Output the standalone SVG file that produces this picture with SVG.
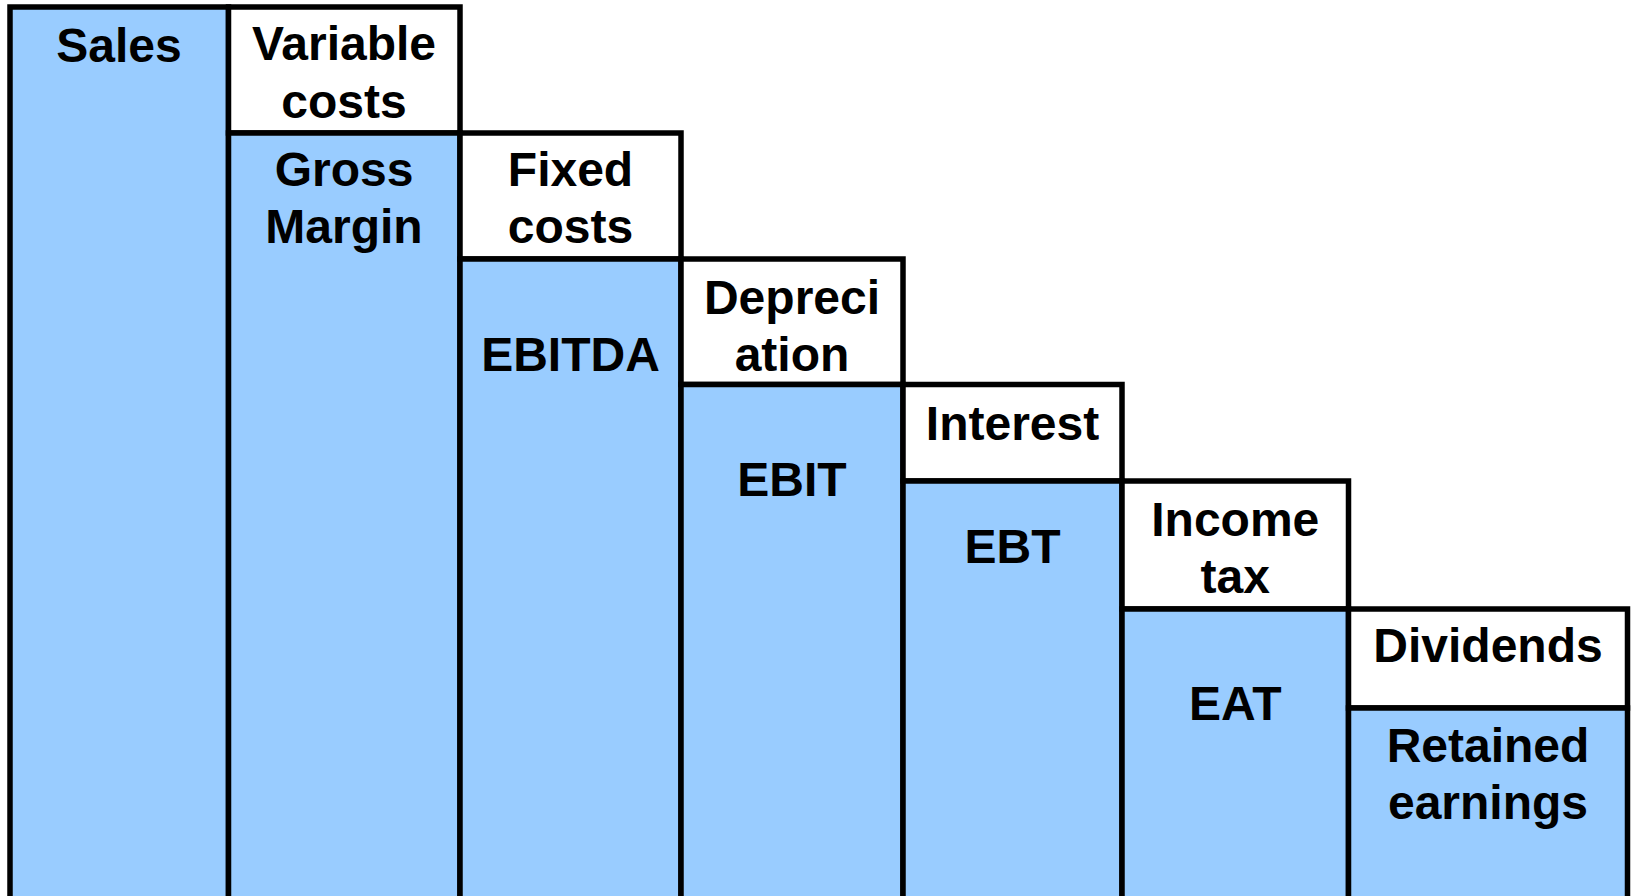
<svg xmlns="http://www.w3.org/2000/svg" width="1635" height="896" viewBox="0 0 1635 896">
  <style>
    .profit { fill: #99ccff; stroke: #000; stroke-width: 5.5; }
    .cost { fill: #ffffff; stroke: #000; stroke-width: 5.5; }
    text { font-family: "Liberation Sans", Arial, sans-serif; font-weight: bold; font-size: 48px; fill: #000; text-anchor: middle; }
  </style>
  <rect width="1635" height="896" fill="#ffffff"/>

  <!-- Profit cascade: each step splits the previous amount into a cost (white) and what remains (blue) -->
  <g id="sales">
    <rect class="profit" x="10" y="7" width="218.5" height="892"/>
    <text x="119" y="62">Sales</text>
  </g>

  <g id="variable-costs">
    <rect class="cost" x="228.5" y="7" width="231.5" height="126"/>
    <text x="344" y="60">Variable</text>
    <text x="344" y="118">costs</text>
  </g>
  <g id="gross-margin">
    <rect class="profit" x="228.5" y="133" width="231.5" height="766"/>
    <text x="344" y="186">Gross</text>
    <text x="344" y="243">Margin</text>
  </g>

  <g id="fixed-costs">
    <rect class="cost" x="460" y="133" width="221" height="126"/>
    <text x="570.5" y="186">Fixed</text>
    <text x="570.5" y="243">costs</text>
  </g>
  <g id="ebitda">
    <rect class="profit" x="460" y="259" width="221" height="640"/>
    <text x="570.5" y="371">EBITDA</text>
  </g>

  <g id="depreciation">
    <rect class="cost" x="681" y="259" width="222" height="125.5"/>
    <text x="792" y="314">Depreci</text>
    <text x="792" y="371">ation</text>
  </g>
  <g id="ebit">
    <rect class="profit" x="681" y="384.5" width="222" height="514.5"/>
    <text x="792" y="496">EBIT</text>
  </g>

  <g id="interest">
    <rect class="cost" x="903" y="384.5" width="219" height="96.5"/>
    <text x="1012.5" y="440">Interest</text>
  </g>
  <g id="ebt">
    <rect class="profit" x="903" y="481" width="219" height="418"/>
    <text x="1012.5" y="563">EBT</text>
  </g>

  <g id="income-tax">
    <rect class="cost" x="1122" y="481" width="226.5" height="128"/>
    <text x="1235.25" y="536">Income</text>
    <text x="1235.25" y="593">tax</text>
  </g>
  <g id="eat">
    <rect class="profit" x="1122" y="609" width="226.5" height="290"/>
    <text x="1235.25" y="720">EAT</text>
  </g>

  <g id="dividends">
    <rect class="cost" x="1348.5" y="609" width="279" height="99"/>
    <text x="1488" y="662">Dividends</text>
  </g>
  <g id="retained-earnings">
    <rect class="profit" x="1348.5" y="708" width="279" height="191"/>
    <text x="1488" y="762">Retained</text>
    <text x="1488" y="819">earnings</text>
  </g>
</svg>
